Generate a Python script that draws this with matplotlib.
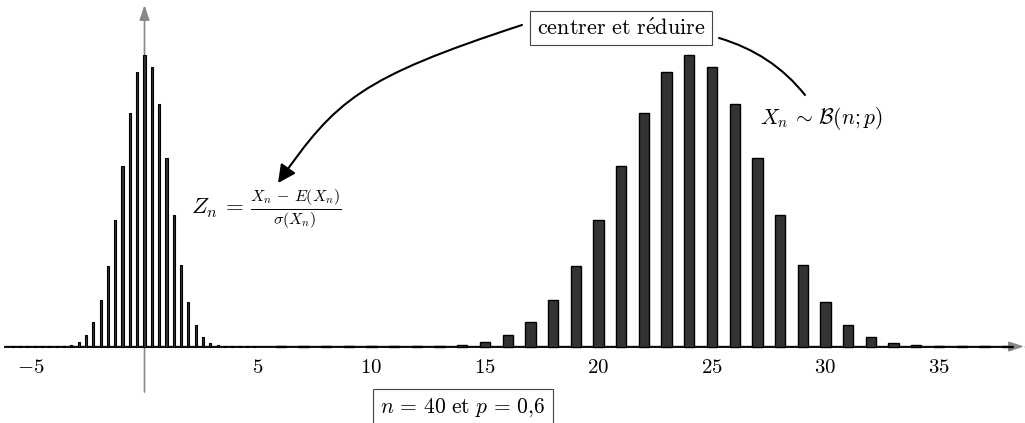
import numpy as np
import matplotlib
matplotlib.use("Agg")
import matplotlib.pyplot as plt
from matplotlib.patches import FancyArrowPatch
from matplotlib.path import Path

plt.rcParams["mathtext.fontset"] = "cm"
plt.rcParams["font.family"] = ["cmr10", "DejaVu Serif"]

# binomial B(40; 0.6)
n = 40
p = 0.6
k_values = np.arange(6, 40)
probs = [
    0.0000001, 0.0000002, 0.0000006, 0.0000016, 0.000006, 0.0000245,
    0.0000878, 0.00028, 0.00082, 0.00213, 0.0050, 0.0106, 0.0203, 0.0352,
    0.0554, 0.0791, 0.1025, 0.1204, 0.1279, 0.1228, 0.1063, 0.0827, 0.0576,
    0.0357, 0.0197, 0.00951, 0.00401, 0.00146, 0.00045, 0.000116, 0.000025,
    0.000004, 0.0000006, 0.0000001,
]
tick_values = [-5, 5, 10, 15, 20, 25, 30, 35]

mu = n * p
sigma = np.sqrt(n * p * (1 - p))
z_values = (k_values - mu) / sigma

# pixel -> data helper (figure is 1025x423 px)
X0, SX = 144.5, 22.7
Y0, SY = 346.5, 2277.0


def px(x, y):
    return ((x - X0) / SX, (Y0 - y) / SY)


fig = plt.figure(figsize=(10.25, 4.23), dpi=100)
ax = fig.add_axes([0, 0, 1, 1])
ax.set_xlim(px(0, 0)[0], px(1025, 0)[0])
ax.set_ylim(px(0, 423)[1], px(0, 0)[1])
ax.axis("off")

# axes arrows
ax.annotate("", xy=px(1024, Y0), xytext=px(5, Y0),
            arrowprops=dict(arrowstyle="-|>,head_length=0.9,head_width=0.3",
                            color="#888888", lw=1.2, shrinkA=0, shrinkB=0))
ax.annotate("", xy=(0, px(0, 5)[1]), xytext=(0, px(0, 392)[1]),
            arrowprops=dict(arrowstyle="-|>,head_length=0.9,head_width=0.3",
                            color="#888888", lw=1.2, shrinkA=0, shrinkB=0))
ax.plot([px(5, 0)[0], px(1013, 0)[0]], [0, 0], color="black", lw=1.3, zorder=3)

# bars
ax.bar(k_values, probs, width=0.45, color="#333333", edgecolor="black",
       linewidth=1.0, zorder=4)
ax.bar(z_values, probs, width=0.09, color="#333333", edgecolor="black",
       linewidth=0.8, zorder=4)

# tick labels
for v in tick_values:
    ax.text(v, px(0, 368)[1], rf"${v}$", ha="center", va="center", fontsize=15)

# labels
ax.text(*px(621, 28), r"$\mathrm{centrer\ et\ r\acute{e}duire}$",
        ha="center", va="center", fontsize=16,
        bbox=dict(boxstyle="square,pad=0.28", fc="white", ec="#444444", lw=0.8))
ax.text(*px(463, 408), r"$n\,=\,40\ \mathrm{et}\ p\,=\,0{,}6$",
        ha="center", va="center", fontsize=15.5,
        bbox=dict(boxstyle="square,pad=0.35", fc="white", ec="#444444", lw=0.8))
ax.text(*px(760, 118), r"$X_n\,\sim\,\mathcal{B}(n;p)$",
        ha="left", va="center", fontsize=15.5)
ax.text(*px(191, 209), r"$Z_n\,=\,\frac{X_n\,-\,E(X_n)}{\sigma(X_n)}$",
        ha="left", va="center", fontsize=16.5)

# curved arrows
left_path = Path([px(522, 25), px(360, 78), px(336, 100), px(278, 183)],
                 [Path.MOVETO, Path.CURVE4, Path.CURVE4, Path.CURVE4])
ax.add_patch(FancyArrowPatch(path=left_path, transform=ax.transData,
                             arrowstyle="-|>,head_length=0.9,head_width=0.45",
                             mutation_scale=12, color="black", lw=1.5))
right_path = Path([px(719, 38), px(772, 53.5), px(805, 95)],
                  [Path.MOVETO, Path.CURVE3, Path.CURVE3])
ax.add_patch(FancyArrowPatch(path=right_path, transform=ax.transData,
                             arrowstyle="-", color="black", lw=1.5))

fig.savefig("out.png", dpi=100)
